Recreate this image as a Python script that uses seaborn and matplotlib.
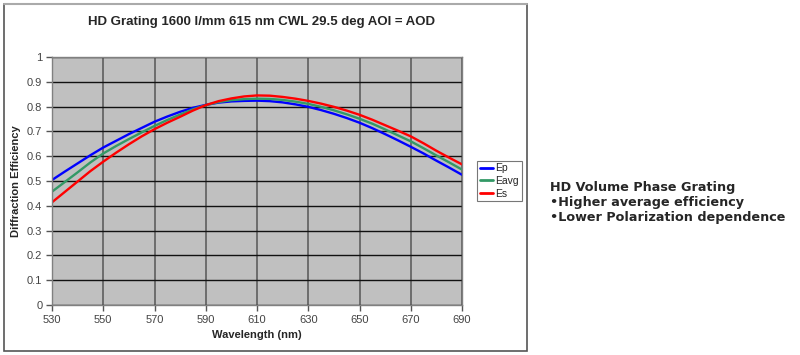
import numpy as np
import pandas as pd
import matplotlib
matplotlib.use("Agg")
import matplotlib.pyplot as plt
import seaborn as sns
from matplotlib.patches import Rectangle

# Wavelength samples (nm) and efficiencies
wavelength = [530, 535, 540, 545, 550, 555, 560, 565, 570, 575, 580, 585, 590, 595, 600, 605, 610,
              615, 620, 625, 630, 635, 640, 645, 650, 655, 660, 665, 670, 675, 680, 685, 690]
ep = [0.504, 0.538, 0.571, 0.604, 0.635, 0.662, 0.689, 0.714, 0.739, 0.760, 0.779, 0.795, 0.807,
      0.816, 0.821, 0.823, 0.824, 0.822, 0.817, 0.809, 0.799, 0.786, 0.771, 0.754, 0.735, 0.713,
      0.689, 0.664, 0.638, 0.611, 0.582, 0.554, 0.525]
eavg = [0.457, 0.496, 0.535, 0.575, 0.611, 0.641, 0.669, 0.696, 0.722, 0.746, 0.768, 0.789, 0.806,
        0.818, 0.826, 0.830, 0.832, 0.831, 0.827, 0.820, 0.811, 0.799, 0.785, 0.769, 0.751, 0.731,
        0.708, 0.684, 0.660, 0.632, 0.603, 0.575, 0.546]
es = [0.414, 0.456, 0.498, 0.540, 0.578, 0.614, 0.648, 0.680, 0.709, 0.735, 0.759, 0.784, 0.806,
      0.822, 0.833, 0.841, 0.845, 0.844, 0.839, 0.832, 0.823, 0.812, 0.799, 0.784, 0.767, 0.747,
      0.725, 0.703, 0.680, 0.652, 0.622, 0.594, 0.567]

series_names = ["Ep", "Eavg", "Es"]
series_colors = ["#0000FF", "#339966", "#FF0000"]
x_ticks = [530, 550, 570, 590, 610, 630, 650, 670, 690]
y_ticks = [0, 0.1, 0.2, 0.3, 0.4, 0.5, 0.6, 0.7, 0.8, 0.9, 1]
y_tick_labels = ["0", "0.1", "0.2", "0.3", "0.4", "0.5", "0.6", "0.7", "0.8", "0.9", "1"]
side_text = ["HD Volume Phase Grating", "\u2022Higher average efficiency", "\u2022Lower Polarization dependence"]


def main():
    sns.set_style("white")
    plt.rcParams["font.family"] = ["Liberation Sans", "DejaVu Sans"]

    df = pd.DataFrame({"Wavelength": wavelength, "Ep": ep, "Eavg": eavg, "Es": es})
    long_df = df.melt(id_vars="Wavelength", var_name="Series", value_name="Efficiency")

    fig = plt.figure(figsize=(8, 3.55), dpi=100)
    fig.patch.set_facecolor("white")

    # chart frame like the spreadsheet chart area
    fig.patches.append(Rectangle((4 / 800, 4 / 355), 523 / 800, 347 / 355, transform=fig.transFigure,
                                 fill=False, edgecolor="#555555", linewidth=1.2, zorder=0))
    fig.add_artist(plt.Line2D([4 / 800, 527 / 800], [351 / 355, 351 / 355], transform=fig.transFigure,
                              color="#AAAAAA", linewidth=1.5))

    ax = fig.add_axes([52 / 800, 50 / 355, 410 / 800, 248 / 355])
    ax.set_facecolor("#C0C0C0")

    sns.lineplot(data=long_df, x="Wavelength", y="Efficiency", hue="Series",
                 hue_order=series_names, palette=series_colors, linewidth=1.7, ax=ax)

    ax.set_xlim(530, 690)
    ax.set_ylim(0, 1)
    ax.set_xticks(x_ticks)
    ax.set_yticks(y_ticks)
    ax.set_yticklabels(y_tick_labels)
    ax.grid(True, axis="y", color="#111111", linewidth=1.0)
    ax.grid(True, axis="x", color="#666666", linewidth=1.3)
    ax.set_axisbelow(True)
    for side in ["top", "right", "bottom", "left"]:
        ax.spines[side].set_color("#808080")
        ax.spines[side].set_linewidth(1.0)
    ax.tick_params(axis="both", direction="out", length=4, width=1, color="#555555",
                   labelsize=8, labelcolor="#444444", bottom=True, left=True, pad=3)

    ax.set_xlabel("Wavelength (nm)", fontsize=8, fontweight="bold", labelpad=4)
    ax.set_ylabel("Diffraction Efficiency", fontsize=8, fontweight="bold", labelpad=4)
    fig.text(262 / 800, 1 - 22 / 355, "HD Grating 1600 l/mm 615 nm CWL 29.5 deg AOI = AOD",
             fontsize=9.5, fontweight="bold", ha="center", va="center")

    leg = ax.legend(loc="center left", bbox_to_anchor=(1.037, 0.5), frameon=True, fancybox=False,
                    fontsize=7.5, handlelength=1.3, handletextpad=0.2, borderpad=0.25,
                    borderaxespad=0, labelspacing=0.25, title=None)
    leg.get_frame().set_edgecolor("#555555")
    leg.get_frame().set_linewidth(0.8)
    for h in leg.get_lines():
        h.set_linewidth(2)

    for i, line in enumerate(side_text):
        fig.text(550 / 800, 1 - (187 + 15.5 * i) / 355, line, fontsize=9.2, fontweight="bold",
                 family=["DejaVu Sans"], va="center", ha="left")

    fig.savefig("out.png", dpi=100)


if __name__ == "__main__":
    main()
